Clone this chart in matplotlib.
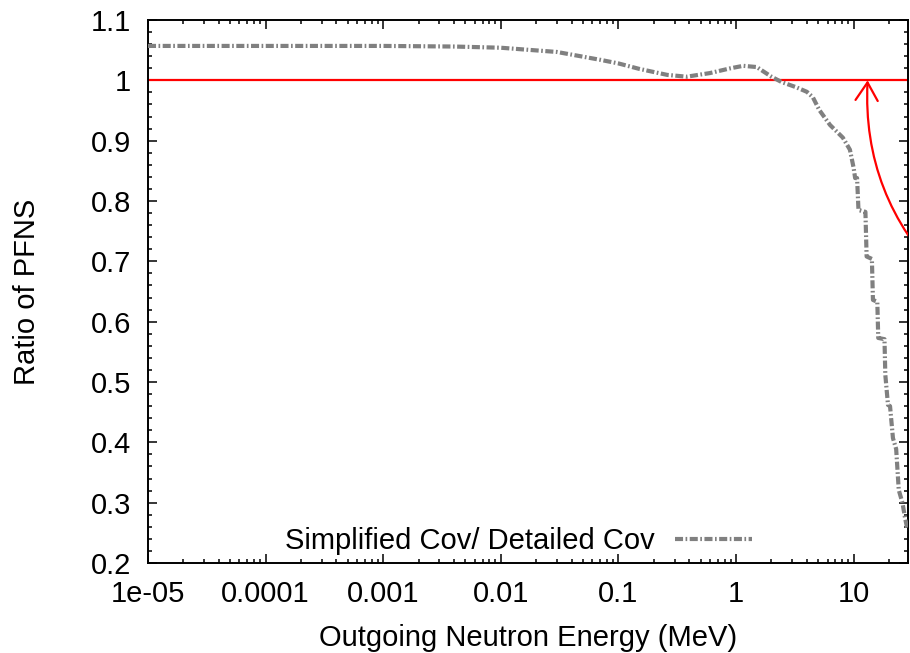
import numpy as np
import matplotlib
matplotlib.use("Agg")
import matplotlib.pyplot as plt
from matplotlib.patches import FancyArrowPatch
from matplotlib.ticker import LogLocator, MultipleLocator, NullFormatter

plt.rcParams['font.family'] = ['Liberation Sans', 'DejaVu Sans']
plt.rcParams['lines.scale_dashes'] = False

# ratio of the simplified to the detailed covariance PFNS
energy = [1e-5, 1e-4, 1e-3, 0.004, 0.01, 0.03, 0.07, 0.1, 0.15, 0.26, 0.38,
          0.6, 0.9, 1.15, 1.5, 2.0, 2.45, 3.2, 4.0, 4.5, 5.1, 6.3, 8.1, 9.3,
          10.0, 10.3, 10.7, 11.0, 12.6, 12.9, 14.3, 14.6, 15.9, 16.2, 18.3,
          18.6, 19.6, 20.4, 21.6, 23.0, 24.2, 26.0, 27.3, 28.5, 30.0]
ratio = [1.057, 1.057, 1.057, 1.056, 1.054, 1.047, 1.034, 1.028, 1.019,
         1.009, 1.006, 1.012, 1.020, 1.024, 1.022, 1.006, 0.997, 0.989,
         0.981, 0.972, 0.951, 0.926, 0.905, 0.885, 0.855, 0.838, 0.838,
         0.785, 0.782, 0.708, 0.704, 0.636, 0.633, 0.573, 0.571, 0.512,
         0.462, 0.460, 0.407, 0.389, 0.321, 0.300, 0.276, 0.258, 0.255]

xticks = [1e-5, 1e-4, 1e-3, 1e-2, 1e-1, 1, 10]
xlabels = ["1e-05", "0.0001", "0.001", "0.01", "0.1", "1", "10"]
yticks = [0.2, 0.3, 0.4, 0.5, 0.6, 0.7, 0.8, 0.9, 1.0, 1.1]
ylabels = ["0.2", "0.3", "0.4", "0.5", "0.6", "0.7", "0.8", "0.9", "1", "1.1"]

# arrow from outside the frame up to the unity line
arrow_start = (58.0, 0.672)
arrow_tip = (13.15, 1.0)

fs = 21

fig = plt.figure(figsize=(9.1, 6.53), dpi=100)
ax = fig.add_axes([0.1626, 0.1378, 0.8352, 0.8316])

ax.axhline(1.0, color="#ff0000", lw=1.6, zorder=2)
ln, = ax.plot(energy, ratio, color="#808080", lw=3.0,
              label="Simplified Cov/ Detailed Cov", zorder=3)
ln.set_dashes((5.8, 1.8, 1.2, 1.8))

arr = FancyArrowPatch(arrow_start, arrow_tip,
                      connectionstyle="arc3,rad=-0.22",
                      arrowstyle="->,head_length=0.65,head_width=0.4",
                      mutation_scale=20, color="#ff0000", lw=1.6,
                      shrinkA=0, shrinkB=0, zorder=4)
ax.add_patch(arr)

ax.set_xscale("log")
ax.set_xlim(1e-5, 29)
ax.set_ylim(0.2, 1.1)
ax.set_xticks(xticks)
ax.set_xticklabels(xlabels)
ax.xaxis.set_minor_locator(LogLocator(base=10, subs=np.arange(2, 10)))
ax.xaxis.set_minor_formatter(NullFormatter())
ax.set_yticks(yticks)
ax.set_yticklabels(ylabels)
ax.yaxis.set_minor_locator(MultipleLocator(0.02))

ax.tick_params(which="both", direction="in", top=True, right=True,
               labelsize=fs, width=1.1)
ax.tick_params(which="major", length=6.5, pad=12)
ax.tick_params(which="minor", length=3.2)
for s in ax.spines.values():
    s.set_linewidth(1.4)

ax.set_xlabel("Outgoing Neutron Energy (MeV)", fontsize=fs, labelpad=12)
ax.set_ylabel("Ratio of PFNS", fontsize=fs, labelpad=36)

leg = ax.legend(loc="center right", bbox_to_anchor=(0.795, 0.0405),
                frameon=False, fontsize=fs, markerfirst=False,
                handlelength=2.65, handletextpad=0.7,
                borderpad=0, borderaxespad=0)

fig.savefig("out.png", dpi=100)
